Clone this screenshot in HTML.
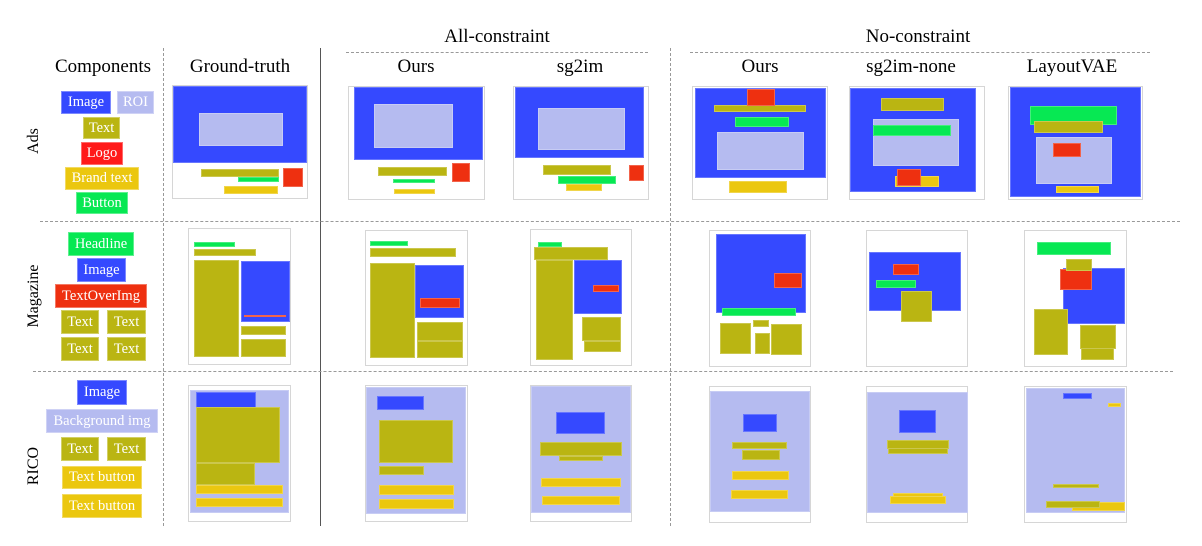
<!DOCTYPE html>
<html><head><meta charset="utf-8">
<style>
html,body{margin:0;padding:0;background:#fff;}
#root{position:relative;width:1202px;height:546px;overflow:hidden;font-family:"Liberation Serif",serif;}
.t{position:absolute;color:#000;font-size:19px;white-space:nowrap;transform:translateX(-50%);}
.rl{position:absolute;font-size:16px;white-space:nowrap;transform:translate(-50%,-50%) rotate(-90deg);}
.lg{position:absolute;color:#fff;font-size:14.5px;display:flex;align-items:center;justify-content:center;box-sizing:border-box;box-shadow:inset 0 0 0 1px rgba(255,255,255,0.35);}
.fr{position:absolute;box-sizing:border-box;border:1.5px solid #d6d6d6;background:#fff;}
.r{position:absolute;box-sizing:border-box;box-shadow:inset 0 0 0 1px rgba(255,255,255,0.25);}
.hd{position:absolute;height:0;border-top:1.5px dashed #999;}
.vd{position:absolute;width:0;border-left:1.5px dashed #999;}
</style></head>
<body>
<div id="root">
<div class="t" style="left:497px;top:26px">All-constraint</div>
<div class="hd" style="left:346px;top:52px;width:302px"></div>
<div class="t" style="left:918px;top:26px">No-constraint</div>
<div class="hd" style="left:690px;top:52px;width:460px"></div>

<div class="t" style="left:103px;top:56px">Components</div>
<div class="t" style="left:240px;top:56px">Ground-truth</div>
<div class="t" style="left:416px;top:56px">Ours</div>
<div class="t" style="left:580px;top:56px">sg2im</div>
<div class="t" style="left:760px;top:56px">Ours</div>
<div class="t" style="left:911px;top:56px">sg2im-none</div>
<div class="t" style="left:1072px;top:56px">LayoutVAE</div>

<div class="vd" style="left:163px;top:48px;height:478px"></div>
<div class="vd" style="left:320px;top:48px;height:478px;border-left:1px solid #555"></div>
<div class="vd" style="left:670px;top:48px;height:478px"></div>
<div class="hd" style="left:40px;top:221px;width:1140px"></div>
<div class="hd" style="left:33px;top:371px;width:1140px"></div>

<div class="rl" style="left:34px;top:141px">Ads</div>
<div class="rl" style="left:34px;top:296px">Magazine</div>
<div class="rl" style="left:34px;top:466px">RICO</div>
</div>
<script>
const C={B:'#3549ff',R:'#b5bbf0',O:'#bab512',E:'#ee3010',Y:'#ebc70f',G:'#07e853',L:'#ff1a1a'};
const legendLabels=['Image','ROI','Text','Logo','Brand text','Button','Headline','Image','TextOverImg','Text','Text','Text','Text','Image','Background img','Text','Text','Text button','Text button'];
const legendColors=['B','R','O','L','Y','G','G','B','E','O','O','O','O','B','R','O','O','Y','Y'];
const legendBoxes=[[61,91,111,114],[117,91,154,114],[83,117,120,139],[81,142,123,165],[65,167,139,190],[76,192,128,214],
[68,232,134,256],[77,258,126,282],[55,284,147,308],[61,310,99,334],[107,310,146,334],[61,337,99,361],[107,337,146,361],
[77,380,127,405],[46,409,158,433],[61,437,99,461],[107,437,146,461],[62,466,142,489],[62,494,142,518]];
const layoutNames=['ads-ground-truth','ads-ours-all','ads-sg2im','ads-ours-none','ads-sg2im-none','ads-layoutvae',
'magazine-ground-truth','magazine-ours-all','magazine-sg2im','magazine-ours-none','magazine-sg2im-none','magazine-layoutvae',
'rico-ground-truth','rico-ours-all','rico-sg2im','rico-ours-none','rico-sg2im-none','rico-layoutvae'];
const frames=[[172,85,308,199],[348,86,485,200],[513,86,649,200],[692,86,828,200],[849,86,985,200],[1008,86,1143,200],
[188,228,291,365],[365,230,468,366],[530,229,632,366],[709,230,811,367],[866,230,968,367],[1024,230,1127,367],
[188,385,291,522],[365,385,468,522],[530,385,632,522],[709,386,811,523],[866,386,968,523],[1024,386,1127,523]];
const elements=[
[['B',173,86,307,163],['R',199,113,283,146],['O',201,169,279,177],['G',238,177,279,182],['Y',224,186,278,194],['E',283,168,303,187]],
[['B',354,87,483,160],['R',374,104,453,148],['O',378,167,447,176],['E',452,163,470,182],['G',393,179,435,183],['Y',394,189,435,194]],
[['B',515,87,644,158],['R',538,108,625,150],['O',543,165,611,175],['Y',566,184,602,191],['G',558,176,616,184],['E',629,165,644,181]],
[['B',695,88,826,178],['O',714,105,806,112],['E',747,89,775,106],['G',735,117,789,127],['R',717,132,804,170],['Y',729,181,787,193]],
[['B',850,88,976,192],['O',881,98,944,111],['R',873,119,959,166],['G',873,125,951,136],['Y',895,176,939,187],['E',897,169,921,186]],
[['B',1010,87,1141,197],['G',1030,106,1117,125],['O',1034,121,1103,133],['R',1036,137,1112,184],['E',1053,143,1081,157],['Y',1056,186,1099,193]],
[['G',194,242,235,247],['O',194,249,256,256],['O',194,260,239,357],['B',241,261,290,322],['E',244,315,286,317],['O',241,326,286,335],['O',241,339,286,357]],
[['G',370,241,408,246],['O',370,248,456,257],['O',370,263,415,358],['B',415,265,464,318],['E',420,298,460,308],['O',417,322,463,341],['O',417,341,463,358]],
[['G',538,242,562,247],['O',534,247,608,260],['O',536,260,573,360],['B',574,260,622,314],['E',593,285,619,292],['O',582,317,621,341],['O',584,341,621,352]],
[['B',716,234,806,313],['E',774,273,802,288],['G',722,308,796,316],['O',720,323,751,354],['O',753,320,769,327],['O',755,333,770,354],['O',771,324,802,355]],
[['B',869,252,961,311],['E',893,264,919,275],['G',876,280,916,288],['O',901,291,932,322]],
[['G',1037,242,1111,255],['B',1063,268,1125,324],['E',1060,269,1092,290],['O',1066,259,1092,271],['O',1034,309,1068,355],['O',1080,325,1116,349],['O',1081,348,1114,360]],
[['R',190,390,289,513],['B',196,392,256,408],['O',196,407,280,463],['O',196,463,255,485],['Y',196,485,283,494],['Y',196,498,283,507]],
[['R',366,387,466,514],['B',377,396,424,410],['O',379,420,453,463],['O',379,466,424,475],['Y',379,485,454,495],['Y',379,499,454,509]],
[['R',531,386,631,513],['B',556,412,605,434],['O',540,442,622,456],['O',559,456,603,461],['Y',541,478,621,487],['Y',542,496,620,505]],
[['R',710,391,810,512],['B',743,414,777,432],['O',732,442,787,449],['O',742,450,780,460],['Y',732,471,789,480],['Y',731,490,788,499]],
[['R',867,392,968,513],['B',899,410,936,433],['O',887,440,949,449],['O',888,448,948,454],['Y',893,493,943,500],['Y',890,496,946,504]],
[['R',1026,388,1125,513],['B',1063,393,1092,399],['Y',1108,403,1121,407],['O',1053,484,1099,488],['Y',1072,502,1125,511],['O',1046,501,1100,508]]
];
const root=document.getElementById('root');
legendLabels.forEach((lab,i)=>{
  const b=legendBoxes[i];
  const d=document.createElement('div');
  d.className='lg';
  d.textContent=lab;
  d.style.cssText=`left:${b[0]}px;top:${b[1]}px;width:${b[2]-b[0]}px;height:${b[3]-b[1]}px;background:${C[legendColors[i]]}`;
  
  
  root.appendChild(d);
});
frames.forEach((f,i)=>{
  const fr=document.createElement('div');
  fr.className='fr';
  fr.style.cssText=`left:${f[0]}px;top:${f[1]}px;width:${f[2]-f[0]}px;height:${f[3]-f[1]}px`;
  
  
  root.appendChild(fr);
  elements[i].forEach(e=>{
    const r=document.createElement('div');
    r.className='r';
    r.style.cssText=`left:${e[1]}px;top:${e[2]}px;width:${e[3]-e[1]}px;height:${e[4]-e[2]}px;background:${C[e[0]]}`;
    
    
    root.appendChild(r);
  });
});
</script>
</body></html>
